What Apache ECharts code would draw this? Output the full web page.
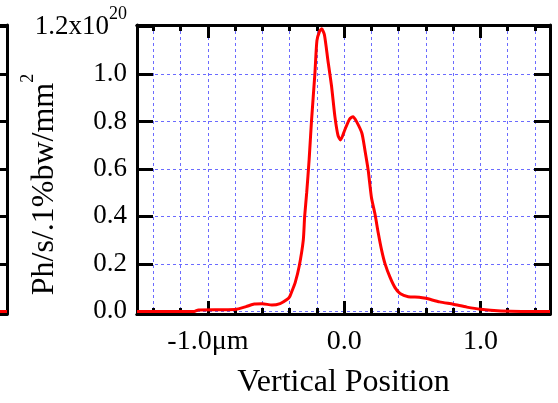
<!DOCTYPE html>
<html>
<head>
<meta charset="utf-8">
<script src="https://cdn.jsdelivr.net/npm/echarts@6/dist/echarts.min.js"></script>
<style>
  html, body { margin: 0; padding: 0; background: #fff; }
  #chart { width: 558px; height: 403px; }
</style>
</head>
<body>
<div id="chart"></div>
<script>
// Vertical beam profile: flux density versus vertical position (µm)
const positionUm = [
  -1.52, -1.10, -1.07, -0.80, -0.72, -0.66, -0.60, -0.53, -0.47, -0.42,
  -0.40, -0.38, -0.36, -0.33, -0.30, -0.29, -0.275, -0.257, -0.24, -0.215,
  -0.20, -0.18, -0.165, -0.145, -0.12, -0.093, -0.068, -0.045, -0.026, 0.005,
  0.04, 0.065, 0.09, 0.13, 0.152, 0.176, 0.20, 0.226, 0.25, 0.275,
  0.30, 0.336, 0.373, 0.41, 0.47, 0.55, 0.60, 0.70, 0.80, 0.90,
  1.00, 1.15, 1.30, 1.51
];
const fluxE20 = [
  0.0, 0.0, 0.006, 0.008, 0.02, 0.031, 0.032, 0.027, 0.033, 0.05,
  0.062, 0.09, 0.12, 0.19, 0.30, 0.40, 0.50, 0.64, 0.80, 1.00,
  1.14, 1.18, 1.19, 1.165, 1.06, 0.95, 0.82, 0.74, 0.722, 0.765,
  0.81, 0.82, 0.80, 0.75, 0.68, 0.595, 0.48, 0.41, 0.33, 0.257,
  0.20, 0.144, 0.10, 0.075, 0.062, 0.06, 0.055, 0.04, 0.03, 0.018,
  0.009, 0.002, 0.0, 0.0
];

// Tail of the neighbouring panel on the left
const leftPanelX = [0.9, 1.0];
const leftPanelY = [0.0, 0.0];

// Axis ticks and labels
const xMinorTicks = [-1.4, -1.2, -1.0, -0.8, -0.6, -0.4, -0.2, 0.0, 0.2, 0.4, 0.6, 0.8, 1.0, 1.2, 1.4];
const xMajorTicks = [-1.0, 0.0, 1.0];
const xTickLabels = ['-1.0\u03bcm', '0.0', '1.0'];
const yTicks = [0.0, 0.2, 0.4, 0.6, 0.8, 1.0, 1.2];
const yTickLabels = ['0.0', '0.2', '0.4', '0.6', '0.8', '1.0', '{m|1.2x10}{s|20}'];

const FONT = 'Liberation Serif';
const X_MIN = -1.52, X_MAX = 1.51;
const Y_MIN = -0.011, Y_MAX = 1.206;
const gridDash = { color: '#6b6bff', width: 1, type: [3, 3] };
const frame = { onZero: false, lineStyle: { color: '#000', width: 3 } };

function xAxisPart(position, ticks, len, extra) {
  return Object.assign({
    type: 'value', gridIndex: 0, position: position,
    min: X_MIN, max: X_MAX,
    axisLine: frame,
    axisTick: { show: true, inside: true, length: len, customValues: ticks,
                lineStyle: { color: '#000', width: 3 } },
    axisLabel: { show: false },
    splitLine: { show: false }
  }, extra || {});
}

function yAxisPart(position, extra) {
  return Object.assign({
    type: 'value', gridIndex: 0, position: position,
    min: Y_MIN, max: Y_MAX,
    axisLine: frame,
    axisTick: { show: true, inside: true, length: 16, customValues: yTicks,
                lineStyle: { color: '#000', width: 3 } },
    axisLabel: { show: false },
    splitLine: { show: false }
  }, extra || {});
}

const chart = echarts.init(document.getElementById('chart'), null, { renderer: 'canvas' });

chart.setOption({
  animation: false,
  backgroundColor: '#fff',
  grid: [
    { left: 137, right: 8, top: 25, bottom: 89, outerBoundsMode: 'none', containLabel: false },
    { left: -300, right: 551, top: 25, bottom: 89, outerBoundsMode: 'none', containLabel: false }
  ],
  xAxis: [
    xAxisPart('bottom', xMinorTicks, 6, { splitLine: { show: true, lineStyle: gridDash } }),
    xAxisPart('bottom', xMajorTicks, 13, {
      axisLabel: {
        show: true, customValues: xMajorTicks, margin: 14,
        color: '#000', fontFamily: FONT, fontSize: 28,
        formatter: function (v) {
          const i = xMajorTicks.findIndex(t => Math.abs(t - v) < 1e-9);
          return i >= 0 ? xTickLabels[i] : '';
        }
      },
      name: 'Vertical Position', nameLocation: 'middle', nameGap: 53, nameMoveOverlap: false,
      nameTextStyle: { color: '#000', fontFamily: FONT, fontSize: 32 }
    }),
    xAxisPart('top', xMinorTicks, 6),
    xAxisPart('top', xMajorTicks, 13),
    // neighbouring panel frame
    { type: 'value', gridIndex: 1, position: 'bottom', min: 0, max: 1,
      axisLine: frame, axisTick: { show: false }, axisLabel: { show: false }, splitLine: { show: false } },
    { type: 'value', gridIndex: 1, position: 'top', min: 0, max: 1,
      axisLine: frame, axisTick: { show: false }, axisLabel: { show: false }, splitLine: { show: false } }
  ],
  yAxis: [
    yAxisPart('left', {
      splitLine: { show: true, lineStyle: gridDash },
      axisLabel: {
        show: true, customValues: yTicks, margin: 10,
        color: '#000', fontFamily: FONT, fontSize: 27,
        formatter: function (v) {
          const i = yTicks.findIndex(t => Math.abs(t - v) < 1e-9);
          return i >= 0 ? yTickLabels[i] : '';
        },
        rich: {
          m: { fontFamily: FONT, fontSize: 27, color: '#000', lineHeight: 42 },
          s: { fontFamily: FONT, fontSize: 18, color: '#000', lineHeight: 20, verticalAlign: 'top' }
        }
      },
      name: '{a|Ph/s/.1%bw/mm}{b|2}', nameLocation: 'middle', nameGap: 66, nameRotate: 90,
      nameMoveOverlap: false,
      nameTextStyle: {
        color: '#000', fontFamily: FONT, fontSize: 32, padding: [0, 30, 0, 0],
        rich: {
          a: { fontFamily: FONT, fontSize: 32, color: '#000', lineHeight: 52 },
          b: { fontFamily: FONT, fontSize: 18, color: '#000', lineHeight: 20, verticalAlign: 'top' }
        }
      }
    }),
    yAxisPart('right'),
    // neighbouring panel right edge
    Object.assign(yAxisPart('right'), { gridIndex: 1 })
  ],
  series: [
    {
      type: 'line', xAxisIndex: 0, yAxisIndex: 0,
      data: positionUm.map((x, i) => [x, fluxE20[i]]),
      showSymbol: false, smooth: 0.2, clip: true,
      lineStyle: { color: '#ff0000', width: 3 }
    },
    {
      type: 'line', xAxisIndex: 4, yAxisIndex: 2,
      data: leftPanelX.map((x, i) => [x, leftPanelY[i]]),
      showSymbol: false, clip: true,
      lineStyle: { color: '#ff0000', width: 3 }
    }
  ]
});
</script>
</body>
</html>
